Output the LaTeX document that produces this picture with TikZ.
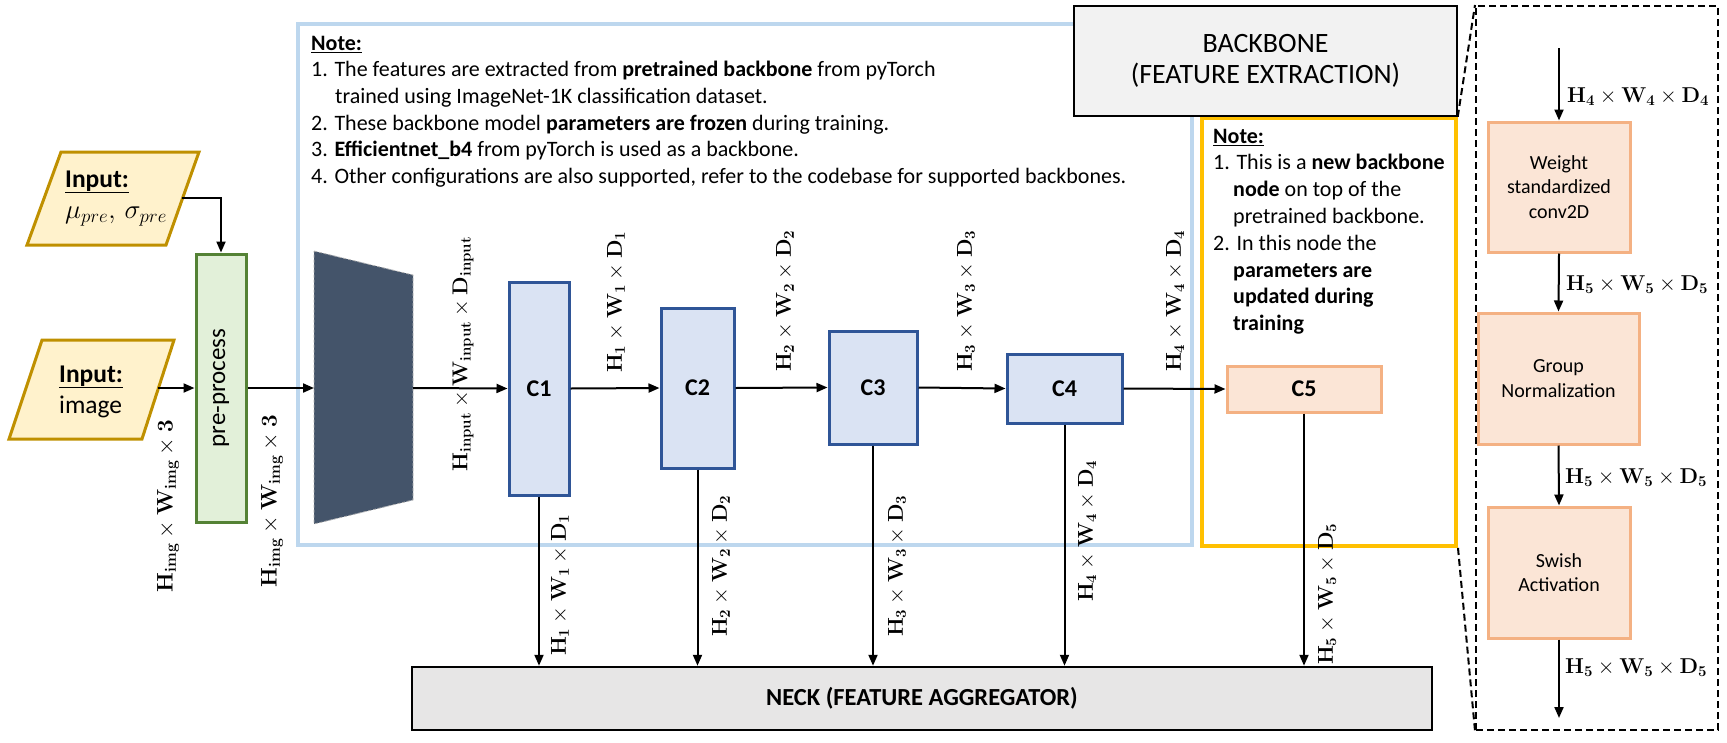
\RequirePackage{fix-cm}
\documentclass[tikz,border=0pt]{standalone}
\usepackage[no-math]{fontspec}
\setmainfont{Carlito}
\usetikzlibrary{arrows.meta}
\definecolor{inyel}{HTML}{FFF2CC}
\definecolor{inbrd}{HTML}{BF9000}
\definecolor{prefill}{HTML}{E2F0D9}
\definecolor{prebrd}{HTML}{548235}
\definecolor{cfill}{HTML}{DAE3F3}
\definecolor{cbrd}{HTML}{2F5597}
\definecolor{pfill}{HTML}{FBE5D6}
\definecolor{pbrd}{HTML}{F4B183}
\definecolor{notebl}{HTML}{BDD7EE}
\definecolor{noteyl}{HTML}{FFC000}
\definecolor{bbfill}{HTML}{F2F2F2}
\definecolor{neckfill}{HTML}{E7E6E6}
\definecolor{slate}{HTML}{44546A}
\newcommand{\myfs}[2]{\fontsize{#1}{#2}\selectfont}
\newcommand{\dimHWD}[1]{$\mathbf{H}_{\mathbf{#1}}\times\mathbf{W}_{\mathbf{#1}}\times\mathbf{D}_{\mathbf{#1}}$}
\newcommand{\dimimg}{$\mathbf{H}_{\mathbf{img}}\times\mathbf{W}_{\mathbf{img}}\times\mathbf{3}$}
\newcommand{\diminput}{$\mathbf{H}_{\mathbf{input}}\times\mathbf{W}_{\mathbf{input}}\times\mathbf{D}_{\mathbf{input}}$}
\begin{document}
\begin{tikzpicture}[x=1pt,y=-1pt,
  arr/.style={draw=black, line width=2pt, -{Triangle[length=11pt,width=9pt]}},
  cbox/.style={draw=cbrd, fill=cfill, line width=3pt, inner sep=0pt, font=\myfs{24}{28}\bfseries},
  pbox/.style={draw=pbrd, fill=pfill, line width=3pt, inner sep=0pt, align=center, font=\myfs{20}{24.5}},
  dimlab/.style={inner sep=0pt, font=\myfs{21.5}{24}},
  inshape/.style={draw=inbrd, fill=inyel, line width=3pt, line join=miter},
  notetext/.style={anchor=north west, align=left, inner sep=0pt},
]
\useasboundingbox (0,0) rectangle (1727,742);

% containers
\node[draw=notebl, line width=4pt, minimum width=894, minimum height=521, inner sep=0pt] (bluebox) at (745,284.5) {};
\node[draw=noteyl, line width=4pt, minimum width=254, minimum height=428, inner sep=0pt] (yelbox) at (1329,332) {};
\node[draw=black, fill=bbfill, line width=1.5pt, minimum width=383, minimum height=110, inner sep=0pt, align=center, font=\myfs{28}{31}] (bbtitle) at (1265.5,61) {BACKBONE\\(FEATURE EXTRACTION)};
\node[draw=black, dashed, dash pattern=on 7pt off 4pt, line width=2pt, minimum width=242, minimum height=724, inner sep=0pt] (panel) at (1597,368) {};
\draw[black, line width=2pt, dash pattern=on 7pt off 4pt] (bbtitle.south east) -- (panel.north west);
\draw[black, line width=2pt, dash pattern=on 7pt off 4pt] (yelbox.south east) -- (panel.south west);

% notes
\node[notetext, font=\myfs{22}{26.6}] (bnote) at (311,31.4) {\strut\underline{\textbf{Note:}}\\
1. The features are extracted from \textbf{pretrained backbone} from pyTorch\\
\hspace*{24pt}trained using ImageNet-1K classification dataset.\\
2. These backbone model \textbf{parameters are frozen} during training.\\
3. \textbf{Efficientnet\_b4} from pyTorch is used as a backbone.\\
4. Other configurations are also supported, refer to the codebase for supported backbones.};
\node[notetext, font=\myfs{22}{26.8}] (ynote) at (1213,124.2) {\strut\underline{\textbf{Note:}}\\
1. This is a \textbf{new backbone}\\
\hspace*{20pt}\textbf{node} on top of the\\
\hspace*{20pt}pretrained backbone.\\
2. In this node the\\
\hspace*{20pt}\textbf{parameters are}\\
\hspace*{20pt}\textbf{updated during}\\
\hspace*{20pt}\textbf{training}};

% inputs
\draw[inshape] (61,152) -- (199,152) -- (166,245) -- (27,245) -- cycle;
\draw[inshape] (42,340) -- (174,340) -- (142,439) -- (9,439) -- cycle;
\node[notetext, font=\myfs{25.5}{31}] (mutext) at (65,165.3) {\strut\underline{\textbf{Input:}}\\{\myfs{27}{31}$\mu_{pre},\,\sigma_{pre}$}};
\node[notetext, font=\myfs{25.5}{31}] (imgtext) at (59,360.3) {\strut\underline{\textbf{Input:}}\\image};
\coordinate (muout) at (182,198);
\coordinate (imgout) at (158,388);

% preprocess
\node[draw=prebrd, fill=prefill, line width=3pt, minimum width=50, minimum height=268, inner sep=0pt] (pre) at (221,388) {};
\node[rotate=90, inner sep=0pt, font=\myfs{25}{30}] (pretext) at (pre.center) {pre-process};

% backbone trapezoid
\filldraw[fill=slate, draw=gray!60, densely dashed, line width=0.8pt] (314,251) -- (413,275) -- (413,500) -- (314,524) -- cycle;
\coordinate (tzL) at (314,388);
\coordinate (tzR) at (413,388);

% C boxes
\node[cbox, minimum width=60, minimum height=213] (C1) at (539,388.5) {C1};
\node[cbox, minimum width=73, minimum height=160] (C2) at (697.5,388) {C2};
\node[cbox, minimum width=88, minimum height=113] (C3) at (873,387.5) {C3};
\node[cbox, minimum width=115, minimum height=69] (C4) at (1064.5,388.5) {C4};
\node[draw=pbrd, fill=pfill, line width=3pt, inner sep=0pt, font=\myfs{24}{28}\bfseries, minimum width=154, minimum height=46] (C5) at (1304,389) {C5};

% neck
\node[draw=black, fill=neckfill, line width=2.5pt, minimum width=1020, minimum height=63, inner sep=0pt, font=\myfs{24.5}{28}\bfseries] (neck) at (922,698.5) {NECK (FEATURE AGGREGATOR)};

% right panel
\node[pbox, minimum width=142, minimum height=130] (wsc) at (1559,187) {Weight\\standardized\\conv2D};
\node[pbox, minimum width=161, minimum height=131] (gn) at (1558.5,378.5) {Group\\Normalization};
\node[pbox, minimum width=142, minimum height=131] (swa) at (1559,572.5) {Swish\\Activation};
\coordinate (rtop) at (1559,48);
\coordinate (rbot) at (1559,718);

% arrows
\draw[arr] (muout) -| (pre.north);
\draw[arr] (imgout) -- (pre.west);
\draw[arr] (pre.east) -- (tzL);
\draw[arr] (tzR) -- (C1.west);
\draw[arr] (C1.east) -- (C2.west);
\draw[arr] (C2.east) -- (C3.west);
\draw[arr] (C3.east) -- (C4.west);
\draw[arr] (C4.east) -- (C5.west);
\foreach \c in {C1,C2,C3,C4,C5} {\draw[arr] (\c.south) -- (\c.south |- neck.north);}
\draw[arr] (rtop) -- (wsc.north);
\draw[arr] (wsc.south) -- (gn.north);
\draw[arr] (gn.south) -- (swa.north);
\draw[arr] (swa.south) -- (rbot);

% dimension labels
\node[dimlab, rotate=90, font=\myfs{22.5}{26}] (limg1) at (168,506) {\dimimg};
\node[dimlab, rotate=90, font=\myfs{22.5}{26}] (limg2) at (272,501) {\dimimg};
\node[dimlab, rotate=90] (linp) at (463,354) {\diminput};
\node[dimlab, rotate=90] (lu1) at (616,302) {\dimHWD{1}};
\node[dimlab, rotate=90] (lu2) at (785,301) {\dimHWD{2}};
\node[dimlab, rotate=90] (lu3) at (966,301) {\dimHWD{3}};
\node[dimlab, rotate=90] (lu4) at (1175,301) {\dimHWD{4}};
\node[dimlab, rotate=90] (ld1) at (560,585) {\dimHWD{1}};
\node[dimlab, rotate=90] (ld2) at (721,566) {\dimHWD{2}};
\node[dimlab, rotate=90] (ld3) at (897,566) {\dimHWD{3}};
\node[dimlab, rotate=90] (ld4) at (1087,531) {\dimHWD{4}};
\node[dimlab, rotate=90] (ld5) at (1327,594) {\dimHWD{5}};
\node[dimlab, anchor=west] (lr1) at (1567,97) {\dimHWD{4}};
\node[dimlab, anchor=west] (lr2) at (1566,285) {\dimHWD{5}};
\node[dimlab, anchor=west] (lr3) at (1565,478) {\dimHWD{5}};
\node[dimlab, anchor=west] (lr4) at (1565,668) {\dimHWD{5}};
\end{tikzpicture}
\end{document}
